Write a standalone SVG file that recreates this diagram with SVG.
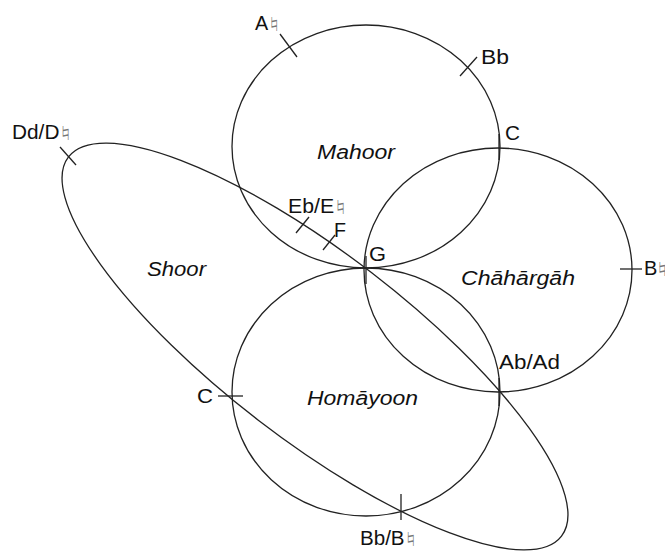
<svg xmlns="http://www.w3.org/2000/svg" width="665" height="551" viewBox="0 0 665 551">
<style>
.c{fill:none;stroke:#222;stroke-width:1.3}
.t{stroke:#222;stroke-width:1.3}
.l{font-family:"Liberation Sans",Arial,sans-serif;font-size:20px;fill:#111}
.i{font-family:"Liberation Sans",Arial,sans-serif;font-size:20px;font-style:italic;fill:#111}
.n{font-family:"Noto Sans CJK JP","DejaVu Sans",sans-serif;font-size:16px;fill:#777}
</style>
<rect width="665" height="551" fill="#fff"/>
<g id="mahoor">
<ellipse class="c" cx="366" cy="146.5" rx="134" ry="121.5"/>
<text class="i" x="317" y="159" textLength="78" lengthAdjust="spacingAndGlyphs">Mahoor</text>
</g>
<g id="chahargah">
<ellipse class="c" cx="498" cy="270" rx="134" ry="122"/>
<text class="i" x="461" y="285" textLength="114" lengthAdjust="spacingAndGlyphs">Chāhārgāh</text>
</g>
<g id="homayoon">
<ellipse class="c" cx="366" cy="392" rx="134" ry="124"/>
<text class="i" x="307" y="405" textLength="111" lengthAdjust="spacingAndGlyphs">Homāyoon</text>
</g>
<g id="shoor">
<ellipse class="c" cx="315" cy="346.5" rx="311" ry="93" transform="rotate(37.57 315 346.5)"/>
<text class="i" x="147" y="276" textLength="59" lengthAdjust="spacingAndGlyphs">Shoor</text>
</g>
<g id="ticks">
<line class="t" x1="280" y1="34" x2="297" y2="57"/>
<line class="t" x1="460" y1="76" x2="477" y2="57"/>
<line class="t" x1="499" y1="134" x2="499" y2="160"/>
<line class="t" x1="60" y1="147" x2="76" y2="165"/>
<line class="t" x1="296" y1="233" x2="309" y2="217"/>
<line class="t" x1="323" y1="250" x2="335" y2="235"/>
<line class="t" x1="366" y1="256" x2="366" y2="284"/>
<line class="t" x1="620" y1="269" x2="642" y2="269"/>
<line class="t" x1="499" y1="378" x2="499" y2="406"/>
<line class="t" x1="218" y1="396" x2="243" y2="396"/>
<line class="t" x1="401" y1="494" x2="401" y2="520"/>
</g>
<g id="labels">
<text class="l" x="255" y="30" textLength="27" lengthAdjust="spacingAndGlyphs">A<tspan class="n" dx="-2">♮</tspan></text>
<text class="l" x="481" y="64" textLength="28" lengthAdjust="spacingAndGlyphs">Bb</text>
<text class="l" x="505" y="140" textLength="15" lengthAdjust="spacingAndGlyphs">C</text>
<text class="l" x="12" y="139" textLength="62" lengthAdjust="spacingAndGlyphs">Dd/D<tspan class="n" dx="-2">♮</tspan></text>
<text class="l" x="288" y="213" textLength="61" lengthAdjust="spacingAndGlyphs">Eb/E<tspan class="n" dx="-2">♮</tspan></text>
<text class="l" x="334" y="237" textLength="12" lengthAdjust="spacingAndGlyphs">F</text>
<text class="l" x="369" y="261" textLength="17" lengthAdjust="spacingAndGlyphs">G</text>
<text class="l" x="644" y="275">B<tspan class="n" dx="-3">♮</tspan></text>
<text class="l" x="499" y="369" textLength="61" lengthAdjust="spacingAndGlyphs">Ab/Ad</text>
<text class="l" x="197" y="403" textLength="16" lengthAdjust="spacingAndGlyphs">C</text>
<text class="l" x="360" y="545" textLength="59" lengthAdjust="spacingAndGlyphs">Bb/B<tspan class="n" dx="-2">♮</tspan></text>
</g>
</svg>
